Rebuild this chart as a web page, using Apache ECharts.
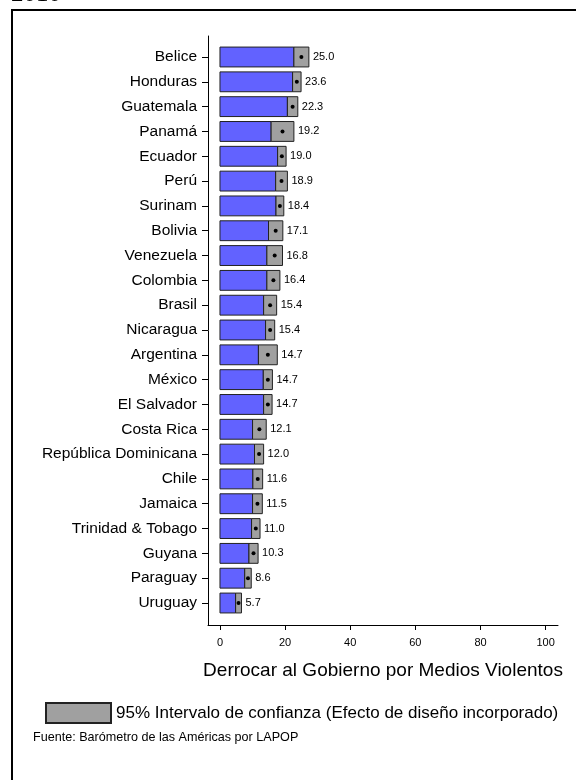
<!DOCTYPE html>
<html>
<head>
<meta charset="utf-8">
<script src="https://cdn.jsdelivr.net/npm/echarts@6/dist/echarts.min.js"></script>
<style>
  html, body { margin: 0; padding: 0; background: #fff; }
  #chart { width: 576px; height: 780px; }
</style>
</head>
<body>
<div id="chart"></div>
<script>
// países, de arriba hacia abajo
const countries = ['Belice', 'Honduras', 'Guatemala', 'Panamá', 'Ecuador', 'Perú', 'Surinam', 'Bolivia',
  'Venezuela', 'Colombia', 'Brasil', 'Nicaragua', 'Argentina', 'México', 'El Salvador', 'Costa Rica',
  'República Dominicana', 'Chile', 'Jamaica', 'Trinidad & Tobago', 'Guyana', 'Paraguay', 'Uruguay']
// promedio
const means = [25.0, 23.6, 22.3, 19.2, 19.0, 18.9, 18.4, 17.1, 16.8, 16.4, 15.4, 15.4, 14.7, 14.7, 14.7,
  12.1, 12.0, 11.6, 11.5, 11.0, 10.3, 8.6, 5.7]
// intervalo de confianza 95% (inferior / superior)
const ciLow = [22.7, 22.3, 20.7, 15.7, 17.7, 17.1, 17.2, 14.9, 14.4, 14.4, 13.4, 14.0, 11.8, 13.3, 13.4,
  10.0, 10.6, 10.1, 10.0, 9.7, 8.9, 7.6, 4.8]
const ciHigh = [27.3, 24.9, 23.9, 22.7, 20.3, 20.7, 19.6, 19.3, 19.2, 18.4, 17.4, 16.8, 17.6, 16.1, 16.0,
  14.2, 13.4, 13.1, 13.0, 12.3, 11.7, 9.6, 6.6]
const xTicks = [0, 20, 40, 60, 80, 100]

const FONT = 'Liberation Sans, Arial, sans-serif'
const rows = countries.map((c, i) => [i, ciLow[i], ciHigh[i], means[i]])
const rowIdx = countries.map((c, i) => i)

const chart = echarts.init(document.getElementById('chart'))

const option = {
  animation: false,
  textStyle: { fontFamily: FONT, color: '#000' },
  grid: { left: 208, right: 18, top: 36, bottom: 155 },
  xAxis: {
    type: 'value',
    min: -3.68,
    max: 103.8,
    name: 'Derrocar al Gobierno por Medios Violentos',
    nameLocation: 'middle',
    nameGap: 36,
    nameTextStyle: { fontSize: 19, color: '#000', fontFamily: FONT },
    axisLine: { show: true, onZero: false, lineStyle: { color: '#000', width: 1 } },
    axisTick: { show: true, length: 5, customValues: xTicks, lineStyle: { color: '#000' } },
    axisLabel: { customValues: xTicks, fontSize: 11, color: '#000', margin: 12 },
    splitLine: { show: false }
  },
  yAxis: {
    type: 'value',
    inverse: true,
    min: -0.846,
    max: 22.886,
    axisLine: { show: true, onZero: false, lineStyle: { color: '#000', width: 1 } },
    axisTick: { show: true, length: 6, customValues: rowIdx, lineStyle: { color: '#000' } },
    axisLabel: {
      customValues: rowIdx,
      formatter: v => countries[v],
      fontSize: 15.5,
      color: '#000',
      margin: 11
    },
    splitLine: { show: false }
  },
  legend: {
    left: 45,
    top: 702,
    padding: 0,
    itemWidth: 65,
    itemHeight: 20,
    icon: 'rect',
    textStyle: { fontSize: 17, color: '#000', fontFamily: FONT },
    data: ['95% Intervalo de confianza (Efecto de diseño incorporado)']
  },
  graphic: [
    { type: 'rect', shape: { x: 12, y: 10, width: 600, height: 800 }, style: { fill: 'none', stroke: '#000', lineWidth: 2 } },
    { type: 'text', left: 11, top: -18, style: { text: '2010', font: '25px "Liberation Serif", serif', fill: '#000' } },
    { type: 'text', left: 33, top: 731, style: { text: 'Fuente: Barómetro de las Américas por LAPOP', font: '12.6px ' + FONT, fill: '#000' } }
  ],
  series: [{
    type: 'custom',
    name: '95% Intervalo de confianza (Efecto de diseño incorporado)',
    itemStyle: { color: '#a0a0a0', borderColor: '#222', borderWidth: 1 },
    encode: { x: [1, 2, 3], y: 0 },
    data: rows,
    renderItem (params, api) {
      const i = api.value(0)
      const lo = api.value(1)
      const hi = api.value(2)
      const m = api.value(3)
      const p0 = api.coord([0, i])
      const pl = api.coord([lo, i])
      const ph = api.coord([hi, i])
      const pm = api.coord([m, i])
      const h = api.size([0, 1])[1] * 0.8
      const y = p0[1] - h / 2
      return {
        type: 'group',
        children: [
          { type: 'rect', shape: { x: p0[0], y: y, width: pl[0] - p0[0], height: h }, style: { fill: '#6262ff', stroke: '#222', lineWidth: 1 } },
          { type: 'rect', shape: { x: pl[0], y: y, width: ph[0] - pl[0], height: h }, style: { fill: '#a0a0a0', stroke: '#222', lineWidth: 1 } },
          { type: 'circle', shape: { cx: pm[0], cy: pm[1], r: 2 }, style: { fill: '#000' } },
          { type: 'text', x: ph[0] + 4, y: ph[1], style: { text: m.toFixed(1), font: '11px ' + FONT, fill: '#000', verticalAlign: 'middle', align: 'left' } }
        ]
      }
    }
  }]
}

chart.setOption(option)
</script>
</body>
</html>
